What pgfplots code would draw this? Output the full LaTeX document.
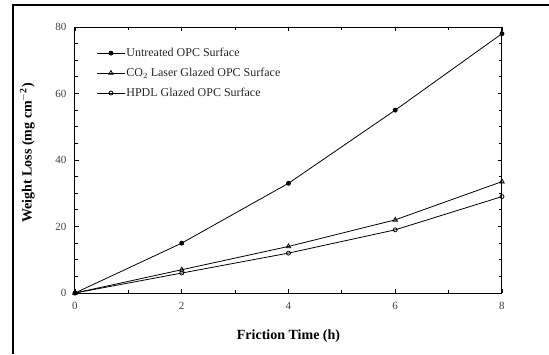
\documentclass[border=0pt]{standalone}
\usepackage{fontspec}
\setmainfont{Liberation Serif}
\usepackage{pgfplots}
\pgfplotsset{compat=1.18}
\begin{document}
\begin{tikzpicture}[x=1pt,y=1pt]
\begin{axis}[
  scale only axis,
  width=427pt, height=266pt,
  xmin=0, xmax=8, ymin=0, ymax=80,
  xtick={0,2,4,6,8}, ytick={0,20,40,60,80},
  minor xtick={1,3,5,7}, minor ytick={5,10,...,75},
  tick align=inside,
  major tick length=4pt, minor tick length=3pt,
  tick style={black, line width=0.8pt},
  axis line style={line width=1pt},
  /pgf/number format/assume math mode=true,
  tick label style={font=\fontsize{11}{12}\selectfont, text=black!75},
  xticklabel style={yshift=-6pt},
  yticklabel style={xshift=-5pt},
  xlabel={\textbf{Friction Time (h)}},
  ylabel={\textbf{Weight Loss (mg cm$^{\mathbf{-2}}$)}},
  label style={font=\fontsize{14}{16}\selectfont},
  xlabel style={at={(rel axis cs:0.5,0)}, anchor=center, yshift=-43pt},
  ylabel style={yshift=14pt, xshift=7pt},
  legend style={draw=none, fill=none, at={(0.05,0.925)}, anchor=north west,
    font=\fontsize{12}{13}\selectfont, row sep=8pt, text=black!85,
    inner sep=0pt, nodes={inner sep=1pt}},
  legend cell align=left,
  legend image code/.code={
    \draw[mark repeat=2,mark phase=2] plot coordinates {(0pt,0pt) (14pt,0pt) (28pt,0pt)};},
  every axis plot/.append style={line width=0.8pt, black},
  clip=false,
]
\coordinate (O) at (rel axis cs:0,0);
\addplot[mark=*, mark size=2pt, mark options={fill=black}] coordinates {(0,0) (2,15) (4,33) (6,55) (8,78)};
\addlegendentry{Untreated OPC Surface}
\addplot[mark=triangle, mark size=2.5pt, mark options={fill=white}] coordinates {(0,0) (2,7) (4,14) (6,22) (8,33.5)};
\addlegendentry{CO$_2$ Laser Glazed OPC Surface}
\addplot[mark=o, mark size=2pt, mark options={fill=white}] coordinates {(0,0) (2,6) (4,12) (6,19) (8,29)};
\addlegendentry{HPDL Glazed OPC Surface}
\end{axis}
\useasboundingbox ([shift={(-75pt,-61pt)}]O) rectangle ([shift={(474pt,293pt)}]O);
\draw[line width=2pt] ([shift={(-62pt,-61pt)}]O) -- ([shift={(-62pt,288pt)}]O) -- ([shift={(474pt,288pt)}]O);
\end{tikzpicture}
\end{document}
